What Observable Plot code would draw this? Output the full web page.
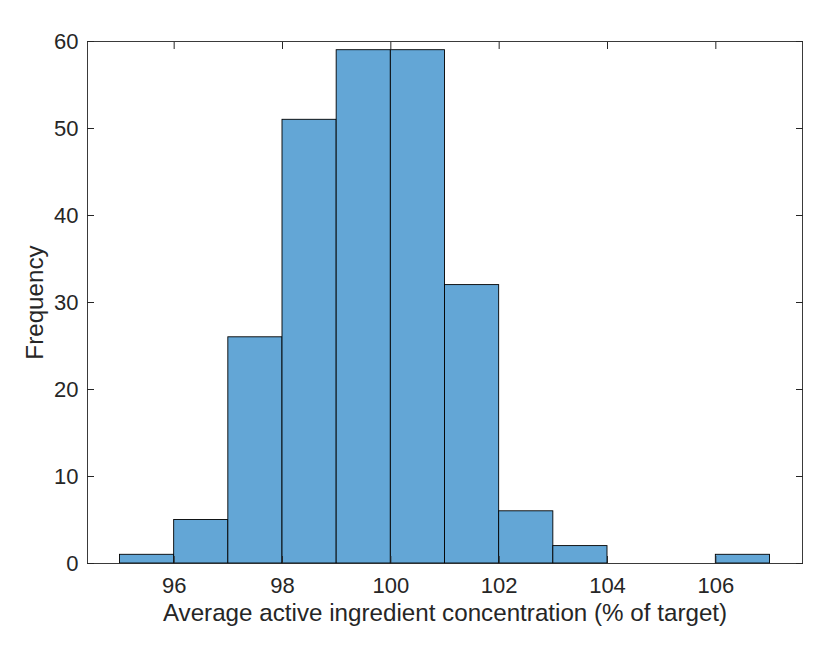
<!DOCTYPE html>
<html>
<head>
<meta charset="utf-8">
<script src="https://cdn.jsdelivr.net/npm/d3@7"></script>
<script src="https://cdn.jsdelivr.net/npm/@observablehq/plot@0.6"></script>
<style>
  html, body { margin: 0; padding: 0; background: #fff; }
  #chart svg { display: block; }
</style>
</head>
<body>
<div id="chart"></div>
<script>
const binStart = [95, 96, 97, 98, 99, 100, 101, 102, 103, 104, 105, 106];
const binEnd   = [96, 97, 98, 99, 100, 101, 102, 103, 104, 105, 106, 107];
const counts   = [1, 5, 26, 51, 59, 59, 32, 6, 2, 0, 0, 1];
const xTicks = [96, 98, 100, 102, 104, 106];
const yTicks = [0, 10, 20, 30, 40, 50, 60];
const xLabel = "Average active ingredient concentration (% of target)";
const yLabel = "Frequency";

const bins = binStart.map((s, i) => ({x1: s, x2: binEnd[i], y: counts[i]})).filter(d => d.y > 0);

const axisColor = "#262626";
const font = "Liberation Sans, Arial, Helvetica, sans-serif";

const chart = Plot.plot({
  width: 830,
  height: 664,
  marginLeft: 87,
  marginRight: 28,
  marginTop: 41,
  marginBottom: 101,
  style: {fontFamily: font, fontSize: "22px", color: axisColor, background: "#fff"},
  x: {domain: [94.4, 107.6]},
  y: {domain: [0, 60]},
  marks: [
    Plot.rectY(bins, {x1: "x1", x2: "x2", y: "y", fill: "rgb(99,166,214)", stroke: "#000", strokeWidth: 0.9}),
    Plot.frame({stroke: axisColor, strokeWidth: 0.9}),
    Plot.axisX({anchor: "bottom", ticks: xTicks, tickSize: -7, text: null, label: null, stroke: axisColor}),
    Plot.axisX({anchor: "top", ticks: xTicks, tickSize: -7, text: null, label: null, stroke: axisColor}),
    Plot.axisY({anchor: "left", ticks: yTicks, tickSize: -7, text: null, label: null, stroke: axisColor}),
    Plot.axisY({anchor: "right", ticks: yTicks, tickSize: -7, text: null, label: null, stroke: axisColor}),
    Plot.axisX({anchor: "bottom", ticks: xTicks, tickSize: 0, tickPadding: 14, label: null, fill: axisColor, fontSize: 22}),
    Plot.axisY({anchor: "left", ticks: yTicks, tickSize: 0, tickPadding: 9, label: null, fill: axisColor, fontSize: 22}),
    Plot.text([xLabel], {frameAnchor: "bottom", dy: 57, text: d => d, fontSize: 24.2, fill: axisColor}),
    Plot.text([yLabel], {frameAnchor: "left", textAnchor: "middle", dx: -52, rotate: -90, text: d => d, fontSize: 24.2, fill: axisColor})
  ]
});
document.getElementById("chart").appendChild(chart);
</script>
</body>
</html>
